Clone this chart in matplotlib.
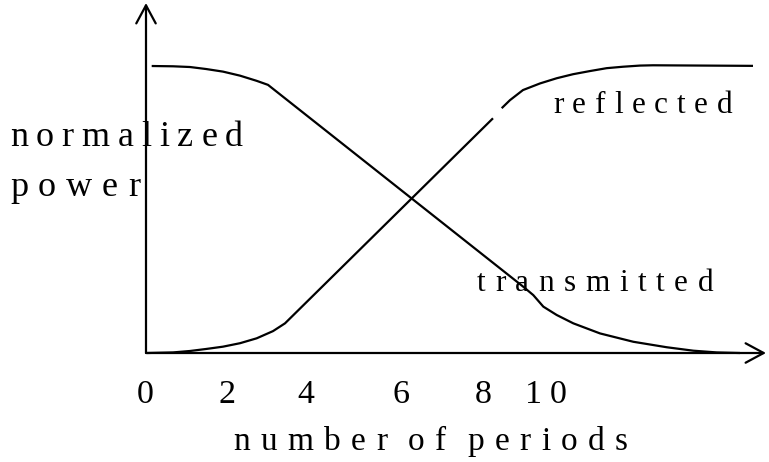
import matplotlib
matplotlib.use("Agg")
import matplotlib.pyplot as plt
from matplotlib.patches import FancyArrowPatch

plt.rcParams["font.family"] = ["Liberation Serif", "DejaVu Serif"]

# ---- data (periods, normalized power) ----
trans_x = [0.138, 0.655, 1.067, 1.459, 1.867, 2.279, 2.683, 2.958,
           9.147, 9.389, 9.632, 9.956, 10.359, 11.006, 11.813, 12.623, 13.268, 13.835, 14.40]
trans_y = [0.9965, 0.9955, 0.993, 0.986, 0.977, 0.963, 0.945, 0.931,
           0.230, 0.201, 0.161, 0.132, 0.103, 0.068, 0.039, 0.020, 0.008, 0.002, 0.0]

refl_low_x = [0.017, 0.655, 1.067, 1.459, 1.867, 2.279, 2.683, 3.079, 3.370, 8.412]
refl_low_y = [0.0, 0.002, 0.007, 0.014, 0.022, 0.034, 0.051, 0.076, 0.103, 0.815]
refl_high_x = [8.623, 8.824, 9.139, 9.552, 9.956, 10.352, 10.764, 11.168, 11.564, 11.976, 12.291, 14.715]
refl_high_y = [0.850, 0.878, 0.913, 0.936, 0.954, 0.968, 0.979, 0.989, 0.994, 0.998, 0.999, 0.997]

tick_labels = ["0", "2", "4", "6", "8", "10"]
y_label_lines = ["normalized", "power"]
x_label = "number of periods"
series_labels = ["reflected", "transmitted"]

W, H = 769, 462
X0, Y0 = 146, 353          # origin in pixels
SX, SY = 41.25, 288.0      # pixels per unit
WORD = 2.0                 # word gap relative to letter gap

fig = plt.figure(figsize=(W / 100, H / 100), dpi=100)
ax = fig.add_axes([0, 0, 1, 1])
ax.set_xlim(-X0 / SX, (W - X0) / SX)
ax.set_ylim((Y0 - H) / SY, Y0 / SY)
ax.axis("off")
renderer = fig.canvas.get_renderer()


def fx(px):
    return px / W


def fy(py):
    return 1 - py / H


def spaced_text(s, left, right, baseline, size):
    """Draw s letter by letter, spread evenly between left and right pixels."""
    items = []
    for ch in s:
        if ch == " ":
            items.append(None)
            continue
        t = fig.text(fx(0), fy(baseline), ch, ha="left", va="baseline", fontsize=size)
        w = t.get_window_extent(renderer).width
        items.append((t, w))
    glyphs = [it for it in items if it is not None]
    n_word = len(items) - len(glyphs)
    n_letter = len(glyphs) - 1 - n_word
    total = sum(w for _, w in glyphs)
    gap = (right - left - total) / max(1.0, n_letter + WORD * n_word)
    x = left
    first = True
    pending_word = False
    for it in items:
        if it is None:
            pending_word = True
            continue
        t, w = it
        if not first:
            x += gap * (WORD if pending_word else 1.0)
        pending_word = False
        first = False
        t.set_x(fx(x))
        x += w


# axes arrows
for end in [((766 - X0) / SX, 0), (0, (Y0 - 3) / SY)]:
    ax.add_patch(FancyArrowPatch((0, 0), end, arrowstyle="->,head_length=1.3,head_width=0.7",
                                 mutation_scale=10, lw=1.6, color="black",
                                 shrinkA=0, shrinkB=0))

ax.plot(trans_x, trans_y, color="black", lw=1.6, solid_capstyle="butt")
ax.plot(refl_low_x, refl_low_y, color="black", lw=1.6, solid_capstyle="butt")
ax.plot(refl_high_x, refl_high_y, color="black", lw=1.6, solid_capstyle="butt")

# tick labels
tick_px = [(137, 155), (218, 233), (297, 313), (393, 410), (475, 490), (525, 567)]
for lab, (l, r) in zip(tick_labels, tick_px):
    spaced_text(lab, l, r, 403, 24.5)

spaced_text(y_label_lines[0], 10, 243, 146, 26)
spaced_text(y_label_lines[1], 10, 140, 196, 26)
spaced_text(series_labels[0], 553, 732, 113, 22.5)
spaced_text(series_labels[1], 477, 713, 291, 22.5)
spaced_text(x_label, 233, 628, 450, 24)

fig.savefig("out.png", dpi=100)
